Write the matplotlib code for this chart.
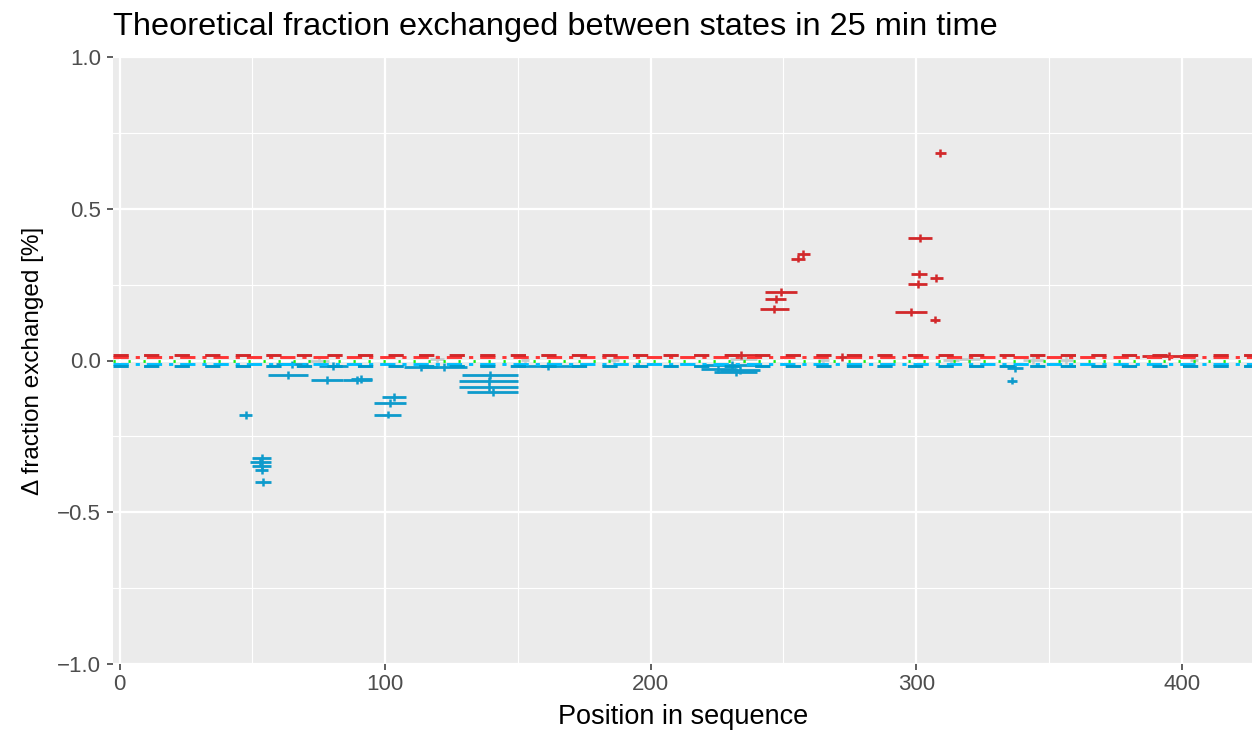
import numpy as np
import matplotlib
matplotlib.use("Agg")
import matplotlib.pyplot as plt

plt.rcParams['font.family'] = ['Liberation Sans', 'DejaVu Sans']
plt.rcParams['lines.scale_dashes'] = False

# significant peptides, lower uptake (blue)
blue_start = [45, 50, 49, 50, 51, 51, 56, 59, 72, 84, 87, 99, 96, 96, 75, 107,
              113, 129, 128, 128, 131, 150, 220, 219, 224, 226, 334, 334]
blue_end = [50, 57, 57, 57, 56, 57, 71, 71, 84, 95, 95, 108, 108, 106, 86, 120,
            131, 150, 150, 150, 150, 173, 241, 232, 240, 241, 338, 340]
blue_diff = [-0.181, -0.322, -0.335, -0.348, -0.360, -0.400, -0.049, -0.013,
             -0.065, -0.063, -0.060, -0.119, -0.141, -0.178, -0.017, -0.022,
             -0.022, -0.049, -0.066, -0.086, -0.103, -0.017, -0.015, -0.028,
             -0.037, -0.030, -0.066, -0.025]

# significant peptides, higher uptake (red)
red_start = [243, 243, 241, 253, 255, 307, 297, 298, 305, 297, 292, 305, 228, 270, 385]
red_end = [255, 251, 252, 258, 260, 311, 306, 304, 310, 304, 304, 309, 240, 274, 405]
red_diff = [0.227, 0.204, 0.171, 0.336, 0.352, 0.684, 0.405, 0.286, 0.273,
            0.253, 0.161, 0.135, 0.018, 0.012, 0.015]

# insignificant peptides (grey)
grey_start = [71, 117, 151, 184, 230, 263, 310, 316, 340, 354, 403]
grey_end = [79, 122, 154, 188, 240, 267, 316, 324, 348, 359, 406]
grey_diff = [0.0, 0.005, 0.003, 0.002, 0.004, 0.002, 0.003, 0.004, 0.002, 0.003, 0.002]

err = 0.013

# threshold lines
thr_outer = 0.018
thr_inner = 0.010

fig = plt.figure(figsize=(12.52, 7.36), dpi=100)
ax = fig.add_axes([113/1252, 72/736, 1139/1252, 607/736])
ax.set_facecolor('#EBEBEB')
for s in ax.spines.values():
    s.set_visible(False)

# grid like ggplot
for v in [50, 150, 250, 350]:
    ax.axvline(v, color='white', lw=0.8, zorder=0)
for v in [-0.75, -0.25, 0.25, 0.75]:
    ax.axhline(v, color='white', lw=0.8, zorder=0)
for v in [0, 100, 200, 300, 400]:
    ax.axvline(v, color='white', lw=1.6, zorder=0)
for v in [-1.0, -0.5, 0.0, 0.5, 1.0]:
    ax.axhline(v, color='white', lw=1.6, zorder=0)

def draw(starts, ends, diffs, col):
    starts = np.array(starts); ends = np.array(ends); diffs = np.array(diffs)
    mids = (starts + ends) / 2
    ax.hlines(diffs, starts, ends, color=col, lw=2.0, zorder=2)
    ax.vlines(mids, diffs - err, diffs + err, color=col, lw=1.8, zorder=2)

draw(grey_start, grey_end, grey_diff, '#C4CCCC')
draw(blue_start, blue_end, blue_diff, '#0E9BCC')
draw(red_start, red_end, red_diff, '#D2282A')

ax.axhline(thr_inner, color='#FF3535', lw=2.1, dashes=(11, 5, 3, 5), zorder=3)
ax.axhline(thr_outer, color='#D0282A', lw=2.1, dashes=(11, 11), zorder=3)
ax.axhline(-thr_inner, color='#00BFFF', lw=2.1, dashes=(11, 5, 3, 5), zorder=3)
ax.axhline(-thr_outer, color='#0099CC', lw=2.1, dashes=(11, 11), zorder=3)
ax.axhline(0, color='#11EE11', lw=2.0, dashes=(1.6, 9.2), zorder=3)

ax.set_xlim(-2.45, 426.4)
ax.set_ylim(-1, 1)
ax.set_xticks([0, 100, 200, 300, 400])
ax.set_xticklabels(['0', '100', '200', '300', '400'])
ax.set_yticks([-1.0, -0.5, 0.0, 0.5, 1.0])
ax.set_yticklabels(['\u22121.0', '\u22120.5', '0.0', '0.5', '1.0'])
ax.tick_params(length=4.3, width=1.1, color='#333333', labelcolor='#4D4D4D',
               labelsize=16, pad=3)
ax.tick_params(axis='y', pad=4.5)

fig.text(683/1252, 1 - 717/736, 'Position in sequence', ha='center', va='center',
         fontsize=19.5)
fig.text(33/1252, 1 - 361/736, '\u0394 fraction exchanged [%]', ha='center',
         va='center', rotation=90, fontsize=17.5)
fig.text(113/1252, 1 - 35/736,
         'Theoretical fraction exchanged between states in 25 min time',
         ha='left', va='baseline', fontsize=23.4)

fig.savefig('out.png', dpi=100)
